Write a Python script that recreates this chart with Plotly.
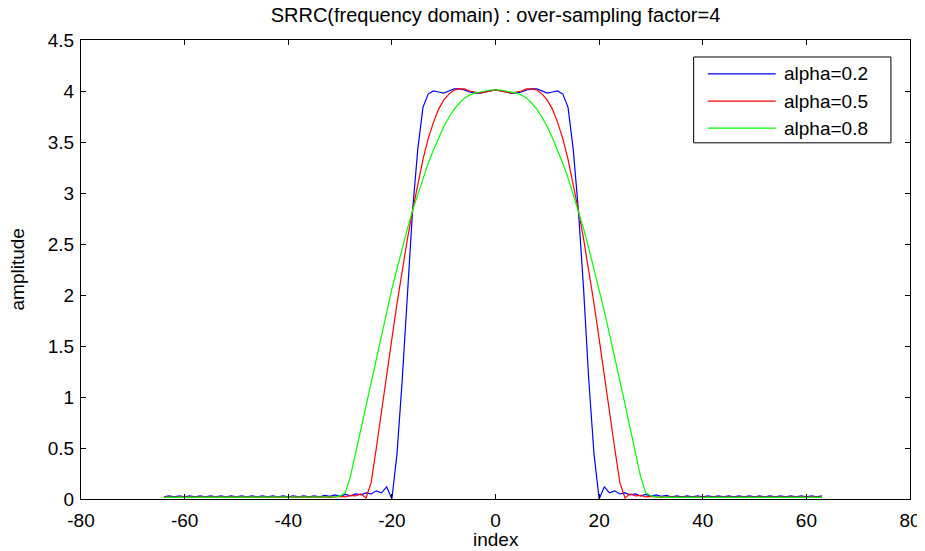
import plotly.graph_objects as go

# index axis (bins of the over-sampled spectrum)
index = list(range(-64, 64))

alpha_02 = [
    0.02, 0.03, 0.02, 0.03, 0.02, 0.03, 0.02, 0.03,
    0.02, 0.03, 0.02, 0.03, 0.02, 0.03, 0.02, 0.03,
    0.02, 0.03, 0.02, 0.03, 0.02, 0.03, 0.02, 0.03,
    0.02, 0.03, 0.02, 0.03, 0.02, 0.03, 0.02, 0.035,
    0.025, 0.04, 0.025, 0.045, 0.03, 0.05, 0.04, 0.06,
    0.05, 0.08, 0.06, 0.12, 0.00, 0.45, 1.17, 2.06,
    2.83, 3.43, 3.84, 3.97, 4.00, 3.99, 3.98, 4.00,
    4.02, 4.02, 4.01, 3.99, 3.98, 3.98, 3.99, 4.00,
    4.01, 4.00, 3.99, 3.98, 3.98, 3.99, 4.01, 4.02,
    4.02, 4.00, 3.98, 3.99, 4.00, 3.97, 3.84, 3.43,
    2.83, 2.06, 1.17, 0.45, 0.00, 0.12, 0.06, 0.08,
    0.05, 0.06, 0.04, 0.05, 0.03, 0.045, 0.025, 0.04,
    0.025, 0.035, 0.02, 0.03, 0.02, 0.03, 0.02, 0.03,
    0.02, 0.03, 0.02, 0.03, 0.02, 0.03, 0.02, 0.03,
    0.02, 0.03, 0.02, 0.03, 0.02, 0.03, 0.02, 0.03,
    0.02, 0.03, 0.02, 0.03, 0.02, 0.03, 0.02, 0.03,
]

alpha_05 = [
    0.015, 0.02, 0.015, 0.02, 0.015, 0.02, 0.015, 0.02,
    0.015, 0.02, 0.015, 0.02, 0.015, 0.02, 0.015, 0.02,
    0.015, 0.02, 0.015, 0.02, 0.015, 0.02, 0.015, 0.02,
    0.015, 0.02, 0.015, 0.02, 0.015, 0.02, 0.015, 0.02,
    0.015, 0.02, 0.025, 0.02, 0.035, 0.03, 0.05, 0.01,
    0.16, 0.50, 0.84, 1.20, 1.57, 1.92, 2.24, 2.55,
    2.83, 3.09, 3.33, 3.53, 3.69, 3.82, 3.91, 3.97,
    4.01, 4.02, 4.02, 4.00, 3.99, 3.98, 3.99, 4.00,
    4.01, 4.00, 3.99, 3.98, 3.99, 4.00, 4.02, 4.02,
    4.01, 3.97, 3.91, 3.82, 3.69, 3.53, 3.33, 3.09,
    2.83, 2.55, 2.24, 1.92, 1.57, 1.20, 0.84, 0.50,
    0.16, 0.01, 0.05, 0.03, 0.035, 0.02, 0.025, 0.02,
    0.015, 0.02, 0.015, 0.02, 0.015, 0.02, 0.015, 0.02,
    0.015, 0.02, 0.015, 0.02, 0.015, 0.02, 0.015, 0.02,
    0.015, 0.02, 0.015, 0.02, 0.015, 0.02, 0.015, 0.02,
    0.015, 0.02, 0.015, 0.02, 0.015, 0.02, 0.015, 0.02,
]

alpha_08 = [
    0.015, 0.015, 0.015, 0.015, 0.015, 0.015, 0.015, 0.015,
    0.015, 0.015, 0.015, 0.015, 0.015, 0.015, 0.015, 0.015,
    0.015, 0.015, 0.015, 0.015, 0.015, 0.015, 0.015, 0.015,
    0.015, 0.015, 0.015, 0.015, 0.015, 0.015, 0.015, 0.015,
    0.015, 0.02, 0.03, 0.06, 0.22, 0.45, 0.69, 0.93,
    1.17, 1.40, 1.62, 1.84, 2.06, 2.26, 2.46, 2.65,
    2.83, 2.99, 3.15, 3.29, 3.42, 3.54, 3.65, 3.74,
    3.82, 3.88, 3.93, 3.96, 3.98, 3.99, 4.00, 4.01,
    4.01, 4.01, 4.00, 3.99, 3.98, 3.96, 3.93, 3.88,
    3.82, 3.74, 3.65, 3.54, 3.42, 3.29, 3.15, 2.99,
    2.83, 2.65, 2.46, 2.26, 2.06, 1.84, 1.62, 1.40,
    1.17, 0.93, 0.69, 0.45, 0.22, 0.06, 0.03, 0.02,
    0.015, 0.015, 0.015, 0.015, 0.015, 0.015, 0.015, 0.015,
    0.015, 0.015, 0.015, 0.015, 0.015, 0.015, 0.015, 0.015,
    0.015, 0.015, 0.015, 0.015, 0.015, 0.015, 0.015, 0.015,
    0.015, 0.015, 0.015, 0.015, 0.015, 0.015, 0.015, 0.015,
]

series_names = ["alpha=0.2", "alpha=0.5", "alpha=0.8"]
series_colors = ["#0000FF", "#FF0000", "#00FF00"]

x_tickvals = [-80, -60, -40, -20, 0, 20, 40, 60, 80]
x_ticktext = ["-80", "-60", "-40", "-20", "0", "20", "40", "60", "80"]
y_tickvals = [0, 0.5, 1, 1.5, 2, 2.5, 3, 3.5, 4, 4.5]
y_ticktext = ["0", "0.5", "1", "1.5", "2", "2.5", "3", "3.5", "4", "4.5"]

FONT = "Liberation Sans, Arial, Helvetica, sans-serif"
FS = 19

fig = go.Figure()
for vals, name, col in zip([alpha_02, alpha_05, alpha_08], series_names, series_colors):
    fig.add_trace(go.Scatter(x=index, y=vals, mode="lines", name=name,
                             line=dict(color=col, width=1.2), showlegend=False))

axis_common = dict(showgrid=False, zeroline=False, showline=True, linecolor="black",
                   linewidth=1, mirror="allticks", ticks="inside", ticklen=5,
                   tickcolor="black", tickwidth=1,
                   tickfont=dict(family=FONT, size=FS, color="black"))

fig.update_xaxes(range=[-80, 80], tickvals=x_tickvals, ticktext=x_ticktext,
                 ticklabelstandoff=4, **axis_common)
fig.update_yaxes(range=[0, 4.5], tickvals=y_tickvals, ticktext=y_ticktext,
                 ticklabelstandoff=2, **axis_common)

# custom MATLAB-like legend
lx0, lx1, ly0, ly1 = 0.739, 0.977, 0.776, 0.963
fig.add_shape(type="rect", xref="paper", yref="paper", x0=lx0, x1=lx1, y0=ly0, y1=ly1,
              line=dict(color="black", width=1), fillcolor="white", layer="above")
row_y = [0.926, 0.867, 0.808]
for ry, name, col in zip(row_y, series_names, series_colors):
    fig.add_shape(type="line", xref="paper", yref="paper", x0=0.756, x1=0.838, y0=ry, y1=ry,
                  line=dict(color=col, width=1.3), layer="above")
    fig.add_annotation(xref="paper", yref="paper", x=0.846, y=ry, text=name, showarrow=False,
                       xanchor="left", yanchor="middle",
                       font=dict(family=FONT, size=FS, color="black"))

fig.add_annotation(xref="paper", yref="paper", x=0.5, y=-0.089, text="index", showarrow=False,
                   xanchor="center", yanchor="middle", font=dict(family=FONT, size=FS, color="black"))
fig.add_annotation(xref="paper", yref="paper", x=-0.076, y=0.5, text="amplitude", showarrow=False,
                   textangle=-90, xanchor="center", yanchor="middle",
                   font=dict(family=FONT, size=FS, color="black"))

fig.update_layout(
    width=925, height=543,
    margin=dict(l=73, r=16, t=32, b=52),
    paper_bgcolor="white", plot_bgcolor="white",
    title=dict(text="SRRC(frequency domain) : over-sampling factor=4", x=0.5, xref="paper",
               y=1.0, yref="container", xanchor="center", yanchor="top",
               pad=dict(t=0, b=0, l=0, r=0),
               font=dict(family=FONT, size=20, color="black")),
)

fig.write_html("out.html")
